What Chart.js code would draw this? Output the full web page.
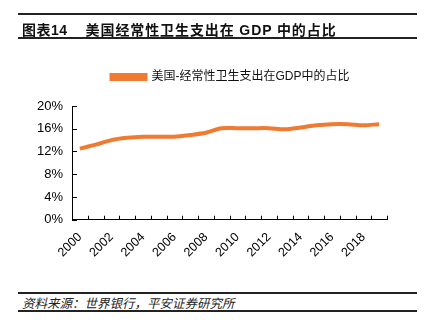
<!DOCTYPE html>
<html>
<head>
<meta charset="utf-8">
<script src="https://cdn.jsdelivr.net/npm/chart.js@4"></script>
<style>
  html, body { margin: 0; padding: 0; background: #fff; }
  body { width: 431px; height: 335px; position: relative; overflow: hidden;
         font-family: "Liberation Sans", "Noto Sans CJK SC", sans-serif; }
  .rule { position: absolute; left: 18px; width: 399px; background: #222; }
  #title { position: absolute; left: 22px; top: 19px; font-size: 14px; font-weight: bold;
           color: #111; white-space: nowrap; letter-spacing: 0.5px; }
  #title span { margin-left: 18px; letter-spacing: 0.9px; }
  #source { position: absolute; left: 22px; top: 293px; font-size: 12.5px; font-style: italic;
            color: #222; white-space: nowrap; }
  #wrap { position: absolute; left: 0; top: 30px; width: 431px; height: 260px; }
</style>
</head>
<body>
<div id="wrap"><canvas id="healthChart"></canvas></div>

<div class="rule" style="top:13px;height:2px"></div>
<div id="title">图表14<span>美国经常性卫生支出在 GDP 中的占比</span></div>
<div class="rule" style="top:37px;height:1.5px"></div>

<div class="rule" style="top:292px;height:1.5px"></div>
<div id="source">资料来源：世界银行，平安证券研究所</div>
<div class="rule" style="top:310px;height:1.5px"></div>

<script>
// anni e quota della spesa sanitaria corrente sul PIL (%)
const years = ['2000', '2001', '2002', '2003', '2004', '2005', '2006', '2007', '2008', '2009',
               '2010', '2011', '2012', '2013', '2014', '2015', '2016', '2017', '2018', '2019'];
const healthShare = [12.5, 13.2, 14.0, 14.4, 14.6, 14.6, 14.6, 14.9, 15.3, 16.1,
                     16.1, 16.1, 16.1, 15.9, 16.2, 16.6, 16.8, 16.8, 16.6, 16.8];
const yTicks = [0, 4, 8, 12, 16, 20];

const orange = '#F07A32';

// tacche verso l'interno sugli assi (x ai bordi delle categorie, y sui valori)
const innerTicks = {
    id: 'innerTicks',
    afterDraw(chart) {
        const c = chart.ctx;
        const x = chart.scales.x, y = chart.scales.y;
        c.save();
        c.strokeStyle = '#000';
        c.lineWidth = 1;
        c.beginPath();
        const half = (x.getPixelForValue(1) - x.getPixelForValue(0)) / 2;
        for (let i = 0; i <= years.length; i++) {
            const px = Math.round(x.getPixelForValue(i) - half) + 0.5;
            c.moveTo(px, y.bottom);
            c.lineTo(px, y.bottom - 4);
        }
        yTicks.forEach(v => {
            const py = Math.round(y.getPixelForValue(v)) + 0.5;
            c.moveTo(x.left, py);
            c.lineTo(x.left + 5, py);
        });
        c.stroke();
        c.restore();
    }
};

// spazio extra sotto la legenda
const legendGap = {
    id: 'legendGap',
    beforeInit(chart) {
        const fit = chart.legend.fit;
        chart.legend.fit = function () {
            fit.call(this);
            this.height += 13;
        };
    }
};

// sposta la legenda un po' a destra, centrata sull'area del grafico
const legendShift = {
    id: 'legendShift',
    afterLayout(chart) {
        chart.legend.left += 23;
        chart.legend.right += 23;
    }
};

const ctx = document.getElementById('healthChart').getContext('2d');

const myChart = new Chart(ctx, {
    type: 'line',
    data: {
        labels: years,
        datasets: [{
            label: '美国-经常性卫生支出在GDP中的占比',
            data: healthShare,
            borderColor: orange,
            backgroundColor: orange,
            borderWidth: 4,
            pointRadius: 0,
            tension: 0.3
        }]
    },
    options: {
        responsive: true,
        maintainAspectRatio: false,
        animation: false,
        layout: { padding: { top: 8, right: 44, left: 28, bottom: 20 } },
        plugins: {
            legend: {
                labels: {
                    color: '#111',
                    boxWidth: 34,
                    boxHeight: 4,
                    padding: 33,
                    font: { size: 12, family: '"Liberation Sans", "Noto Sans CJK SC", sans-serif' }
                }
            },
            tooltip: { enabled: false }
        },
        scales: {
            x: {
                offset: true,
                grid: { display: false, drawTicks: false },
                border: { display: true, color: '#000', width: 1 },
                ticks: {
                    color: '#000',
                    autoSkip: false,
                    maxRotation: 45,
                    minRotation: 45,
                    padding: 10,
                    font: { size: 12.5, family: '"Liberation Sans", sans-serif' },
                    callback: (val, i) => i % 2 === 0 ? years[i] : ''
                }
            },
            y: {
                min: 0,
                max: 20,
                grid: { display: false, drawTicks: false },
                border: { display: true, color: '#000', width: 1 },
                afterBuildTicks: axis => { axis.ticks = yTicks.map(v => ({ value: v })); },
                ticks: {
                    color: '#000',
                    padding: 9,
                    font: { size: 13, family: '"Liberation Sans", sans-serif' },
                    callback: v => v + '%'
                }
            }
        }
    },
    plugins: [innerTicks, legendGap, legendShift]
});
</script>
</body>
</html>
